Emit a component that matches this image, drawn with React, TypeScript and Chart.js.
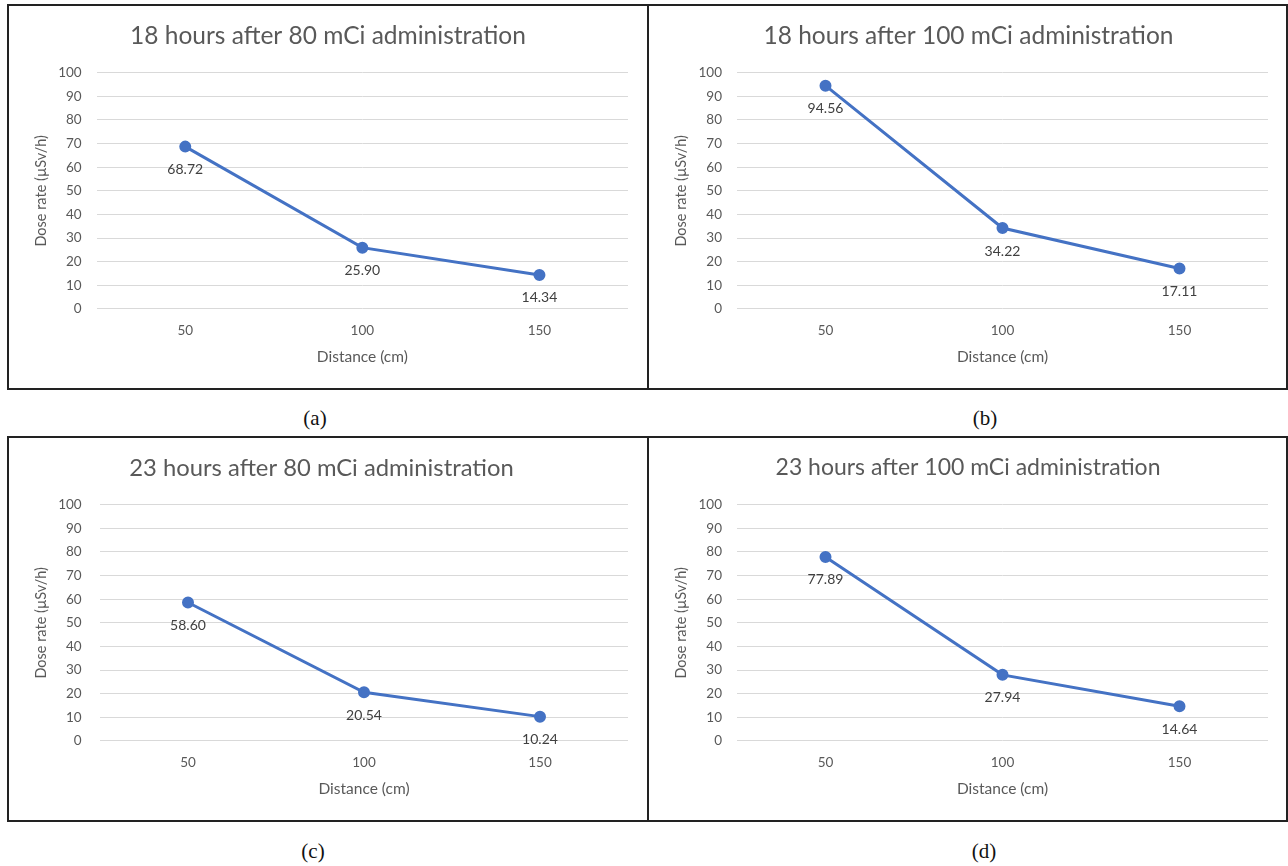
import React, { useEffect, useRef } from "react";
import { Chart, registerables } from "chart.js";

Chart.register(...registerables);

const categories = ["50", "100", "150"];
const seriesA = [68.72, 25.9, 14.34];
const seriesB = [94.56, 34.22, 17.11];
const seriesC = [58.6, 20.54, 10.24];
const seriesD = [77.89, 27.94, 14.64];
const titleA = "18 hours after 80 mCi administration";
const titleB = "18 hours after 100 mCi administration";
const titleC = "23 hours after 80 mCi administration";
const titleD = "23 hours after 100 mCi administration";
const captions = ["(a)", "(b)", "(c)", "(d)"];
const yAxisTitle = "Dose rate (µSv/h)";
const xAxisTitle = "Distance (cm)";
const yMin = 0;
const yMax = 100;
const yStep = 10;

const FONT = "Lato";
const GRAY = "#595959";

const labelPlugin = {
  id: "pointLabels",
  afterDatasetsDraw(chart: any) {
    const ctx = chart.ctx;
    const meta = chart.getDatasetMeta(0);
    const vals = chart.data.datasets[0].data;
    ctx.save();
    ctx.font = `14px ${FONT}`;
    ctx.fillStyle = "#404040";
    ctx.textAlign = "center";
    ctx.textBaseline = "middle";
    meta.data.forEach((pt: any, i: number) => {
      ctx.fillText(Number(vals[i]).toFixed(2), pt.x, pt.y + 23);
    });
    ctx.restore();
  },
};

const titlePlugin = {
  id: "panelTitle",
  afterDraw(chart: any, _args: any, opts: any) {
    const ctx = chart.ctx;
    ctx.save();
    ctx.font = `${opts.size}px ${FONT}`;
    ctx.fillStyle = GRAY;
    ctx.textAlign = "center";
    ctx.textBaseline = "middle";
    ctx.fillText(opts.text, opts.x, opts.y);
    ctx.restore();
  },
};

type PanelProps = {
  title: string;
  titleX: number;
  titleSize: number;
  values: number[];
  left: number;
  top: number;
  width: number;
  height: number;
  plotLeft: number;
  tickPad: number;
  rightPad: number;
};

function Panel({ title, titleX, titleSize, values, left, top, width, height, plotLeft, tickPad, rightPad }: PanelProps) {
  const ref = useRef<HTMLCanvasElement | null>(null);
  const cw = width - 4;
  const ch = height - 4;
  useEffect(() => {
    if (!ref.current) return;
    const plotTop = 66.8;
    const plotBottom = 302.8;
    const chart = new Chart(ref.current, {
      type: "line",
      data: {
        labels: categories,
        datasets: [
          {
            data: values,
            borderColor: "#4472C4",
            backgroundColor: "#4472C4",
            borderWidth: 3,
            pointRadius: 4.5,
            pointBackgroundColor: "#4472C4",
            pointBorderColor: "#4472C4",
            tension: 0,
          },
        ],
      },
      plugins: [labelPlugin, titlePlugin],
      options: {
        responsive: false,
        animation: false,
        devicePixelRatio: 1,
        layout: { padding: { left: 0, top: plotTop, right: rightPad, bottom: 0 } },
        plugins: {
          legend: { display: false },
          tooltip: { enabled: false },
          title: { display: false },
          panelTitle: { text: title, x: titleX, y: 30, size: titleSize },
        },
        scales: {
          x: {
            type: "category",
            offset: true,
            grid: { display: false, drawTicks: false },
            border: { display: false },
            ticks: { color: GRAY, font: { family: FONT, size: 13.5 }, padding: 13.8 },
            title: {
              display: true,
              text: xAxisTitle,
              color: GRAY,
              font: { family: FONT, size: 15.5 },
              padding: { top: 0, bottom: 22 },
            },
            afterFit: (s: any) => {
              s.height = ch - plotBottom;
            },
          },
          y: {
            min: yMin,
            max: yMax,
            grid: { color: "#d9d9d9", lineWidth: 1, drawTicks: false },
            border: { display: false },
            ticks: {
              stepSize: yStep,
              color: GRAY,
              font: { family: FONT, size: 13.5 },
              padding: tickPad,
            },
            title: {
              display: true,
              text: yAxisTitle,
              color: GRAY,
              font: { family: FONT, size: 14.5 },
              padding: { top: 24, bottom: 0 },
            },
            afterFit: (s: any) => {
              s.width = plotLeft;
            },
          },
        },
      } as any,
    });
    return () => chart.destroy();
  }, []);
  return (
    <div
      style={{
        position: "absolute",
        left,
        top,
        width,
        height,
        boxSizing: "border-box",
        border: "2px solid #222",
        background: "#fff",
      }}
    >
      <canvas ref={ref} width={cw} height={ch} style={{ display: "block", width: cw, height: ch }} />
    </div>
  );
}

function Caption({ text, x, y }: { text: string; x: number; y: number }) {
  return (
    <div
      style={{
        position: "absolute",
        left: x,
        top: y,
        transform: "translate(-50%, -50%)",
        fontFamily: "'Liberation Serif', serif",
        fontSize: 21,
        color: "#111",
        whiteSpace: "nowrap",
      }}
    >
      {text}
    </div>
  );
}

export default function App() {
  return (
    <div style={{ position: "absolute", left: 0, top: 0, width: 1288, height: 866, background: "#fff" }}>
      <Panel title={titleA} titleX={319} titleSize={24.5} values={seriesA} left={7} top={4} width={642} height={386} plotLeft={87.7} tickPad={15} rightPad={19} />
      <Panel title={titleB} titleX={319.5} titleSize={24.5} values={seriesB} left={647} top={4} width={641} height={386} plotLeft={88} tickPad={15} rightPad={18} />
      <Panel title={titleC} titleX={312.5} titleSize={23.8} values={seriesC} left={7} top={436} width={642} height={386} plotLeft={91} tickPad={18.3} rightPad={19} />
      <Panel title={titleD} titleX={319} titleSize={23} values={seriesD} left={647} top={436} width={641} height={386} plotLeft={88} tickPad={15} rightPad={18} />
      <Caption text={captions[0]} x={315} y={418} />
      <Caption text={captions[1]} x={985} y={418} />
      <Caption text={captions[2]} x={313} y={851} />
      <Caption text={captions[3]} x={984} y={851} />
    </div>
  );
}
